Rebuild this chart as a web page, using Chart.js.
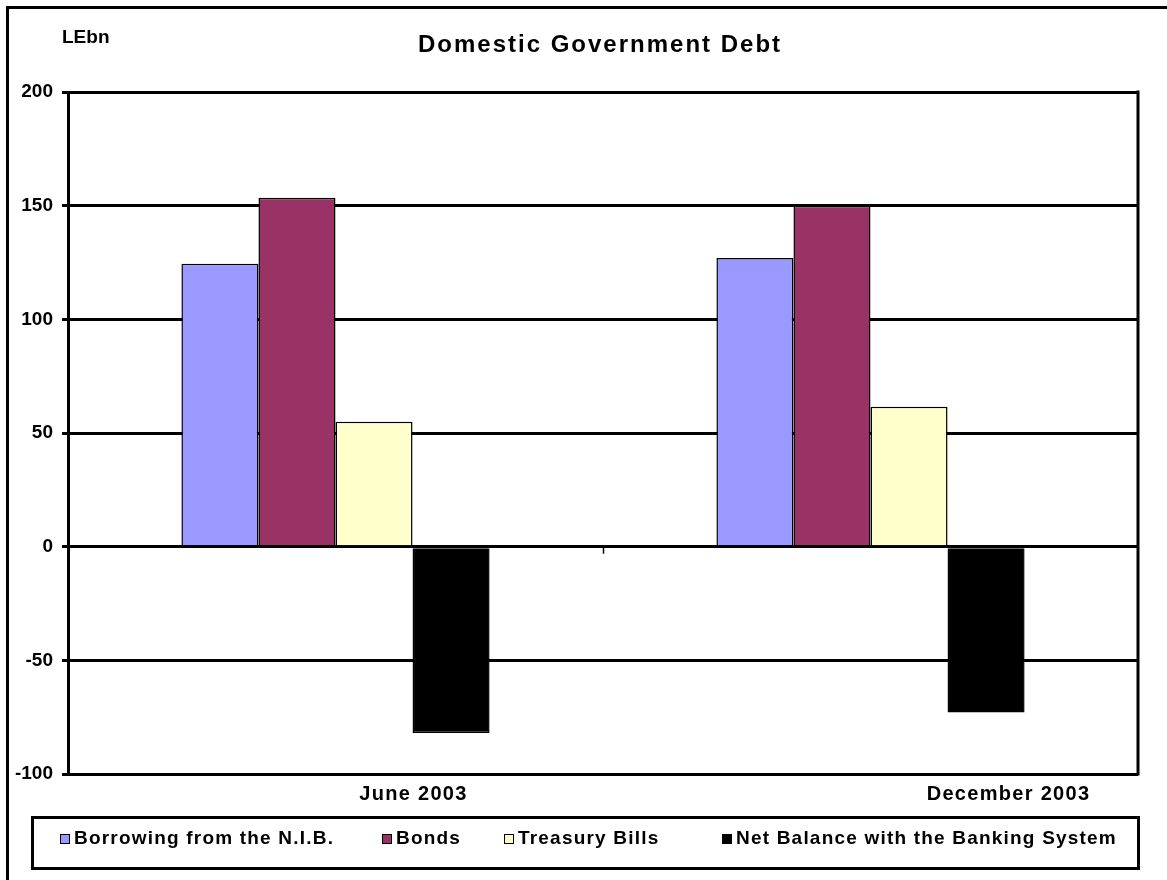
<!DOCTYPE html>
<html>
<head>
<meta charset="utf-8">
<title>Domestic Government Debt</title>
<script src="https://cdn.jsdelivr.net/npm/chart.js@4/dist/chart.umd.min.js"></script>
<style>
  html, body { margin: 0; padding: 0; background: #ffffff; }
  #wrap { width: 1167px; height: 880px; position: relative; }
</style>
</head>
<body>
<div id="wrap"><canvas id="debt" width="1167" height="880"></canvas></div>
<script>
// Periods shown on the category axis
const categories = ['June 2003', 'December 2003'];

// Series values, LE billion
const nibBorrowing = [124.5, 127];
const bonds = [153.5, 150];
const treasuryBills = [55, 61.5];
const netBankingBalance = [-82, -73];

// Series names
const seriesNames = [
  'Borrowing from the N.I.B.',
  'Bonds',
  'Treasury Bills',
  'Net Balance with the Banking System'
];

// Value axis range
const yMin = -100;
const yMax = 200;
const yStep = 50;

// Styling
const FONT = '"Liberation Sans", Arial, Helvetica, sans-serif';
const colours = ['#9999ff', '#993366', '#ffffcc', '#000000'];
const categoryLabelShift = [78, 138];     // horizontal shift of each period label
const legendItemX = [60, 382, 504, 722];  // left edge of each legend swatch

function setSpacing(ctx, px) {
  if ('letterSpacing' in ctx) ctx.letterSpacing = px + 'px';
}

const frameAndTextPlugin = {
  id: 'frameAndText',
  beforeDraw(chart) {
    const ctx = chart.ctx;
    ctx.save();
    ctx.fillStyle = '#ffffff';
    ctx.fillRect(0, 0, chart.width, chart.height);
    // outer frame
    ctx.strokeStyle = '#000000';
    ctx.lineWidth = 3;
    ctx.strokeRect(7.5, 7.5, chart.width + 20, chart.height + 20);
    ctx.restore();
  },
  afterDraw(chart) {
    const ctx = chart.ctx;
    const area = chart.chartArea;
    const xs = chart.scales.x;
    const ys = chart.scales.y;
    ctx.save();

    // right edge of the plot area
    ctx.strokeStyle = '#000000';
    ctx.lineWidth = 3;
    ctx.beginPath();
    ctx.moveTo(area.right, area.top - 1.5);
    ctx.lineTo(area.right, area.bottom + 1.5);
    ctx.stroke();

    // boundary tick between the two periods, hanging from the zero line
    const zeroY = ys.getPixelForValue(0);
    const midX = Math.round((xs.getPixelForValue(0) + xs.getPixelForValue(1)) / 2) + 0.5;
    ctx.lineWidth = 1.5;
    ctx.beginPath();
    ctx.moveTo(midX, zeroY);
    ctx.lineTo(midX, zeroY + 7);
    ctx.stroke();

    ctx.fillStyle = '#000000';
    ctx.textBaseline = 'middle';

    // title and unit
    ctx.textAlign = 'center';
    ctx.font = 'bold 24px ' + FONT;
    setSpacing(ctx, 2);
    ctx.fillText('Domestic Government Debt', 600, 45);
    ctx.textAlign = 'left';
    ctx.font = 'bold 19px ' + FONT;
    setSpacing(ctx, 0);
    ctx.fillText('LEbn', 62, 38);

    // period labels
    ctx.textAlign = 'center';
    ctx.font = 'bold 20px ' + FONT;
    setSpacing(ctx, 1.3);
    chart.data.labels.forEach((lab, i) => {
      ctx.fillText(lab, xs.getPixelForValue(i) + categoryLabelShift[i], 794);
    });

    // legend box
    setSpacing(ctx, 0);
    ctx.lineWidth = 3;
    ctx.strokeRect(32.5, 817.5, 1106, 51);
    ctx.font = 'bold 19px ' + FONT;
    ctx.textAlign = 'left';
    setSpacing(ctx, 1.2);
    chart.data.datasets.forEach((ds, i) => {
      const x = legendItemX[i];
      ctx.fillStyle = ds.backgroundColor;
      ctx.fillRect(x, 834, 10, 10);
      ctx.lineWidth = 1;
      ctx.strokeStyle = '#000000';
      ctx.strokeRect(x + 0.5, 834.5, 9, 9);
      ctx.fillStyle = '#000000';
      ctx.fillText(ds.label, x + 14, 839);
    });
    ctx.restore();
  }
};

const seriesValues = [nibBorrowing, bonds, treasuryBills, netBankingBalance];

new Chart(document.getElementById('debt'), {
  type: 'bar',
  data: {
    labels: categories,
    datasets: seriesValues.map((vals, i) => ({
      label: seriesNames[i],
      data: vals,
      backgroundColor: colours[i],
      borderColor: '#000000',
      borderWidth: 1.5,
      barPercentage: 1,
      categoryPercentage: 0.576
    }))
  },
  options: {
    responsive: false,
    animation: false,
    devicePixelRatio: 1,
    layout: { padding: { top: 92, left: 0, right: 29, bottom: 106 } },
    plugins: {
      legend: { display: false },
      title: { display: false },
      tooltip: { enabled: false }
    },
    scales: {
      x: {
        display: false,
        offset: true,
        grid: { display: false }
      },
      y: {
        min: yMin,
        max: yMax,
        afterFit(scale) { scale.width = 68; },
        ticks: {
          stepSize: yStep,
          padding: 9,
          color: '#000000',
          font: { family: FONT, size: 19, weight: 'bold' }
        },
        grid: {
          color: '#000000',
          lineWidth: 3,
          tickLength: 6,
          tickColor: '#000000',
          tickWidth: 3
        },
        border: { display: true, color: '#000000', width: 3 }
      }
    }
  },
  plugins: [frameAndTextPlugin]
});
</script>
</body>
</html>
